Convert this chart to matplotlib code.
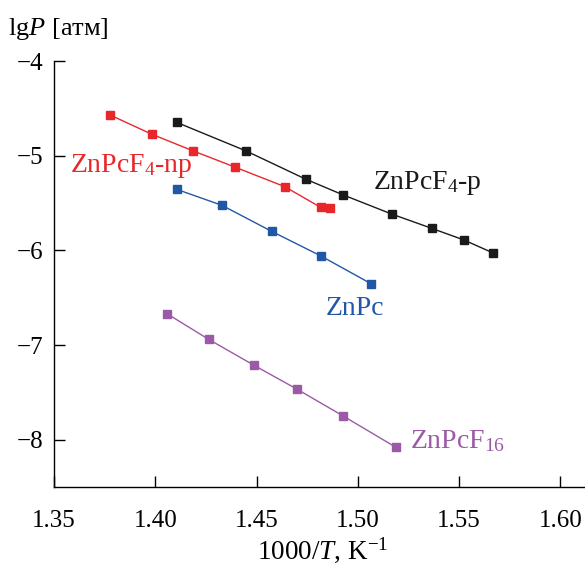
import matplotlib
matplotlib.use('Agg')
from matplotlib import pyplot as plt

plt.rcParams['font.family'] = ['Liberation Serif', 'DejaVu Serif']
plt.rcParams['mathtext.fontset'] = 'custom'
plt.rcParams['mathtext.rm'] = 'Liberation Serif'
plt.rcParams['mathtext.it'] = 'Liberation Serif:italic'
plt.rcParams['axes.unicode_minus'] = True

# ZnPcF4-p (black)
x_p = [1.4105, 1.4446, 1.4745, 1.4925, 1.5167, 1.5365, 1.5524, 1.5668]
y_p = [-4.647, -4.947, -5.249, -5.411, -5.615, -5.766, -5.889, -6.026]

# ZnPcF4-np (red)
x_np = [1.3777, 1.3984, 1.4185, 1.4396, 1.4640, 1.4816, 1.4862]
y_np = [-4.570, -4.774, -4.947, -5.122, -5.327, -5.544, -5.555]

# ZnPc (blue)
x_pc = [1.4105, 1.4329, 1.4574, 1.4818, 1.5065]
y_pc = [-5.354, -5.523, -5.797, -6.058, -6.350]

# ZnPcF16 (purple)
x_16 = [1.4060, 1.4263, 1.4488, 1.4701, 1.4928, 1.5188]
y_16 = [-6.670, -6.937, -7.212, -7.465, -7.747, -8.077]

x_ticks = [1.35, 1.40, 1.45, 1.50, 1.55, 1.60]
y_ticks = [-4, -5, -6, -7, -8]

fig = plt.figure(figsize=(5.85, 5.66), dpi=100)
ax = fig.add_axes([54 / 585, 1 - 486.7 / 566, (584 - 54) / 585, (486.7 - 61) / 566])

# label anchors are baselines
series = [
    (x_p, y_p, '#1a1a1a', 'ZnPcF$_4$-p', (1.5073, -5.351)),
    (x_np, y_np, '#e8272b', 'ZnPcF$_4$-np', (1.3578, -5.168)),
    (x_pc, y_pc, '#2257a8', 'ZnPc', (1.4841, -6.681)),
    (x_16, y_16, '#9b5aa6', 'ZnPcF$_{16}$', (1.5257, -8.084)),
]
for x, y, c, label, pos in series:
    ax.plot(x, y, color=c, lw=1.0, marker='s', ms=6, mec=c, mfc=c)
    ax.text(pos[0], pos[1], label, color=c, fontsize=20, va='baseline', ha='left')

ax.set_xlim(1.35, 1.6117)
ax.set_ylim(-8.493, -4)
ax.set_xticks(x_ticks)
ax.set_xticklabels(['%.2f' % v for v in x_ticks])
ax.set_yticks(y_ticks)
ax.set_yticklabels(['\u2212%d' % abs(v) for v in y_ticks])
ax.tick_params(direction='in', length=8, width=1, labelsize=18)
ax.tick_params(axis='x', pad=17)
ax.tick_params(axis='y', pad=8)
for s in ['top', 'right']:
    ax.spines[s].set_visible(False)
for s in ['left', 'bottom']:
    ax.spines[s].set_linewidth(1.0)

fig.text(8 / 585, 1 - 35 / 566, 'lg$P$ [атм]', fontsize=19, va='baseline', ha='left')
fig.text(323 / 585, 1 - 559 / 566, '1000/$T$, K$^{-1}$', fontsize=19.5, va='baseline', ha='center')

fig.savefig('out.png', dpi=100)
